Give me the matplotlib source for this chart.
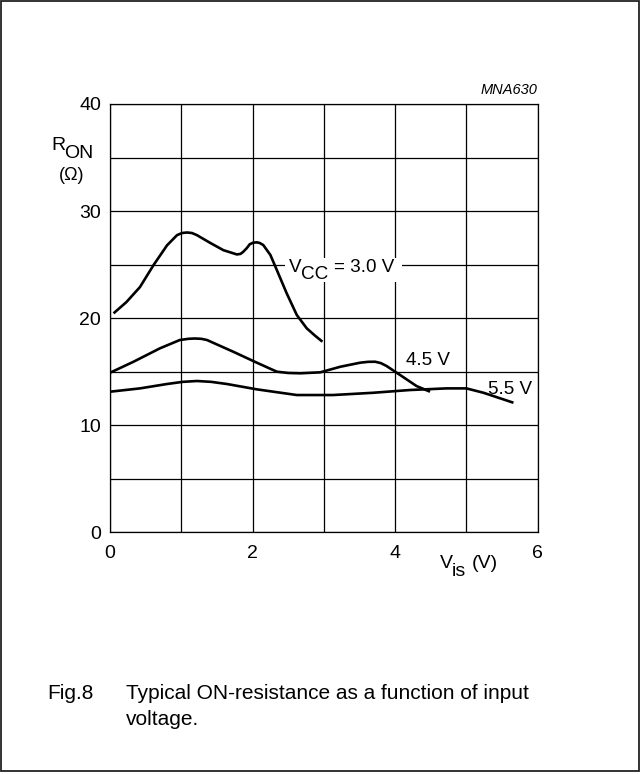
import matplotlib
matplotlib.use("Agg")
import matplotlib.pyplot as plt
from matplotlib.patches import Rectangle

plt.rcParams['font.family'] = ['Liberation Sans', 'DejaVu Sans']

# ---- data ----
vis_30 = [0.05, 0.23, 0.42, 0.61, 0.80, 0.94, 1.01, 1.08, 1.15, 1.22, 1.40, 1.59, 1.78, 1.83, 1.87,
          1.92, 1.96, 2.01, 2.06, 2.10, 2.15, 2.25, 2.34, 2.48, 2.62, 2.76, 2.87, 2.98]
ron_30 = [20.45, 21.5, 22.9, 24.95, 26.8, 27.75, 27.95, 28.0, 27.95, 27.75, 27.05, 26.35, 25.95, 26.0, 26.2,
          26.55, 26.9, 27.05, 27.08, 27.02, 26.83, 25.9, 24.5, 22.3, 20.3, 19.05, 18.4, 17.8]

vis_45 = [0.0, 0.33, 0.70, 0.98, 1.10, 1.19, 1.28, 1.36, 1.73, 2.06, 2.34, 2.50, 2.67, 2.95, 3.23,
          3.51, 3.62, 3.72, 3.80, 3.88, 4.07, 4.30, 4.49]
ron_45 = [14.9, 15.93, 17.18, 17.96, 18.07, 18.1, 18.07, 17.96, 16.86, 15.84, 15.0, 14.88, 14.85, 14.94, 15.46,
          15.84, 15.92, 15.93, 15.8, 15.53, 14.69, 13.66, 13.13]

vis_55 = [0.0, 0.42, 0.80, 1.02, 1.22, 1.42, 1.64, 2.06, 2.62, 3.13, 3.69, 4.21, 4.72, 5.00, 5.24, 5.66]
ron_55 = [13.13, 13.44, 13.85, 14.05, 14.13, 14.05, 13.85, 13.35, 12.82, 12.82, 13.03, 13.29, 13.44,
          13.44, 13.03, 12.1]

x_ticks = [0, 2, 4, 6]
y_ticks = [0, 10, 20, 30, 40]

W, H = 641, 774
fig = plt.figure(figsize=(W / 100, H / 100), dpi=100)

def fx(px):
    return px / W

def fy(py):
    return 1 - py / H

ax = fig.add_axes([fx(110), fy(532.3), (537.7 - 110) / W, (532.3 - 104) / H])
ax.set_xlim(0, 6)
ax.set_ylim(0, 40)
ax.set_xticks(x_ticks)
ax.set_xticks([1, 3, 5], minor=True)
ax.set_yticks(y_ticks)
ax.set_yticks([5, 15, 25, 35], minor=True)
ax.set_xticklabels([str(v) for v in x_ticks])
ax.set_yticklabels([str(v) for v in y_ticks])
ax.tick_params(which='both', length=0)
ax.tick_params(axis='x', pad=9.0, labelsize=14)
ax.tick_params(axis='y', pad=6.5, labelsize=14)
ax.grid(True, which='both', color='black', linewidth=0.9)
for s in ax.spines.values():
    s.set_linewidth(0.9)
ax.set_axisbelow(True)

for xs, ys in [(vis_30, ron_30), (vis_45, ron_45), (vis_55, ron_55)]:
    ax.plot(xs, ys, color='black', linewidth=1.9, zorder=3,
            solid_capstyle='butt', solid_joinstyle='round')

# white box behind VCC label
ax.add_patch(Rectangle((2.455, 23.4), 1.64, 2.25, facecolor='white',
                       edgecolor='none', zorder=2.5))

def dx(px):
    return (px - 110) / 71.28

def dy(py):
    return (532.3 - py) / 10.71

fs = 13.6
ax.text(dx(289), dy(272), 'V', fontsize=fs, ha='left', va='baseline', zorder=4)
ax.text(dx(301), dy(279), 'CC', fontsize=fs, ha='left', va='baseline', zorder=4)
ax.text(dx(333.5), dy(272), '= 3.0 V', fontsize=fs, ha='left', va='baseline', zorder=4)
ax.text(dx(406), dy(365), '4.5 V', fontsize=fs, ha='left', va='baseline', zorder=4)
ax.text(dx(488), dy(393.5), '5.5 V', fontsize=fs, ha='left', va='baseline', zorder=4)

# axis labels
fig.text(fx(51.5), fy(150), 'R', fontsize=14, ha='left', va='baseline')
fig.text(fx(64.5), fy(158.5), 'ON', fontsize=14, ha='left', va='baseline')
fig.text(fx(72), fy(175), '(Ω)', fontsize=13, ha='center', va='center')
fig.text(fx(537.7), fy(94), 'MNA630', fontsize=10.5, style='italic', ha='right', va='baseline')
fig.text(fx(439.5), fy(568), 'V', fontsize=14, ha='left', va='baseline')
fig.text(fx(452), fy(576), 'is', fontsize=14, ha='left', va='baseline')
fig.text(fx(471.5), fy(568.5), '(V)', fontsize=14, ha='left', va='baseline')

# caption
cfs = 15
fig.text(fx(47), fy(699), 'Fig.8', fontsize=cfs, ha='left', va='baseline')
fig.text(fx(126), fy(699), 'Typical ON-resistance as a function of input',
         fontsize=cfs, ha='left', va='baseline')
fig.text(fx(126), fy(725), 'voltage.', fontsize=cfs, ha='left', va='baseline')

# outer frame
fig.add_artist(Rectangle((fx(1), fy(770.5)), (638.5 - 1) / W, (770.5 - 1) / H,
                         transform=fig.transFigure, facecolor='none',
                         edgecolor='#222222', linewidth=1.3))

fig.savefig('out.png', dpi=100)
